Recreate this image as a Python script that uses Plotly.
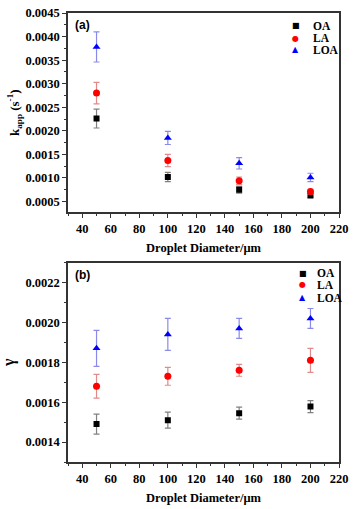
import plotly.graph_objects as go
from plotly.subplots import make_subplots

diameter = [50, 100, 150, 200]
series = ["OA", "LA", "LOA"]

# panel (a): k_app
k_OA = [0.00226, 0.00102, 0.00075, 0.00063]
k_OA_err = [0.00020, 0.00010, 0.00007, 0.00004]
k_LA = [0.00280, 0.00137, 0.00094, 0.00071]
k_LA_err = [0.00023, 0.00013, 0.00008, 0.00005]
k_LOA = [0.00378, 0.00185, 0.00131, 0.00101]
k_LOA_err = [0.00032, 0.00014, 0.00012, 0.00009]

# panel (b): gamma
g_OA = [0.00149, 0.00151, 0.001545, 0.001578]
g_OA_err = [0.00005, 0.00004, 0.00003, 0.00003]
g_LA = [0.00168, 0.00173, 0.00176, 0.00181]
g_LA_err = [0.00006, 0.000045, 0.00003, 0.00006]
g_LOA = [0.00187, 0.00194, 0.00197, 0.00202]
g_LOA_err = [0.00009, 0.00008, 0.00005, 0.00005]

colors = {"OA": "#000000", "LA": "#ff0000", "LOA": "#0000ff"}
err_colors = {"OA": "#808080", "LA": "#e08a8a", "LOA": "#8a8ae8"}
symbols = {"OA": "square", "LA": "circle", "LOA": "triangle-up"}
glyphs = {"OA": "■", "LA": "●", "LOA": "▲"}
sizes = {"OA": 6, "LA": 7, "LOA": 7}

top = {"OA": (k_OA, k_OA_err), "LA": (k_LA, k_LA_err), "LOA": (k_LOA, k_LOA_err)}
bot = {"OA": (g_OA, g_OA_err), "LA": (g_LA, g_LA_err), "LOA": (g_LOA, g_LOA_err)}

FONT = "Liberation Serif"

fig = make_subplots(rows=2, cols=1, vertical_spacing=0.112)

for row, data in [(1, top), (2, bot)]:
    for s in series:
        vals, errs = data[s]
        fig.add_trace(go.Scatter(
            x=diameter, y=vals, mode="markers", name=s, showlegend=False,
            marker=dict(symbol=symbols[s], size=sizes[s], color=colors[s]),
            error_y=dict(type="data", array=errs, visible=True,
                         color=err_colors[s], thickness=1.2, width=3),
        ), row=row, col=1)

axis_common = dict(showline=True, linecolor="#333333", linewidth=1.5, mirror=True,
                   ticks="outside", ticklen=4, tickwidth=1, tickcolor="#333333",
                   showgrid=False, zeroline=False,
                   tickfont=dict(family=FONT, size=12.5, color="#000000"),
                   minor=dict(ticks="outside", ticklen=2, tickcolor="#333333"))

for r in (1, 2):
    fig.update_xaxes(range=[30, 220], dtick=20, tick0=0,
                     title=dict(text="<b>Droplet Diameter/μm</b>",
                                font=dict(family=FONT, size=12.5, color="#000"), standoff=8),
                     tickprefix="<b>", ticksuffix="</b>",
                     minor_dtick=10, row=r, col=1, **axis_common)

fig.update_yaxes(range=[0.00027, 0.0045], dtick=0.0005, tick0=0, tickformat=".4f",
                 tickprefix="<b>", ticksuffix="</b>", minor_dtick=0.00025,
                 title=dict(text="<b>k<sub>app</sub> (s<sup>-1</sup>)</b>",
                            font=dict(family=FONT, size=13, color="#000"), standoff=3),
                 row=1, col=1, **axis_common)
fig.update_yaxes(range=[0.0013, 0.0023], dtick=0.0002, tick0=0, tickformat=".4f",
                 tickprefix="<b>", ticksuffix="</b>", minor_dtick=0.0001,
                 title=dict(text="<b>γ</b>",
                            font=dict(family=FONT, size=16, color="#000"), standoff=8),
                 row=2, col=1, **axis_common)

# legends drawn as annotations (compact row spacing like the reference)
annotations = [
    dict(text="<b>(a)</b>", x=0.02, y=0.985, xref="x domain", yref="y domain",
         xanchor="left", yanchor="top", showarrow=False,
         font=dict(family="Liberation Sans", size=12, color="#000")),
    dict(text="<b>(b)</b>", x=0.02, y=0.985, xref="x2 domain", yref="y2 domain",
         xanchor="left", yanchor="top", showarrow=False,
         font=dict(family="Liberation Sans", size=12, color="#000")),
]
legend_pos = [("x domain", "y domain", 0.841, 0.895, [0.937, 0.874, 0.816]),
              ("x2 domain", "y2 domain", 0.866, 0.913, [0.947, 0.888, 0.825])]
for xr, yr, mx, tx, rows in legend_pos:
    for s, ry in zip(series, rows):
        annotations.append(dict(text=glyphs[s], x=mx, y=ry, xref=xr, yref=yr,
                                xanchor="center", yanchor="middle", showarrow=False,
                                font=dict(family="DejaVu Sans", size=8, color=colors[s])))
        annotations.append(dict(text="<b>%s</b>" % s, x=tx, y=ry, xref=xr, yref=yr,
                                xanchor="left", yanchor="middle", showarrow=False,
                                font=dict(family=FONT, size=11.5, color="#000")))

fig.update_layout(
    width=354, height=509,
    margin=dict(l=66, r=12, t=6, b=39),
    plot_bgcolor="white", paper_bgcolor="white",
    showlegend=False,
    annotations=annotations,
)

fig.write_html("out.html")
